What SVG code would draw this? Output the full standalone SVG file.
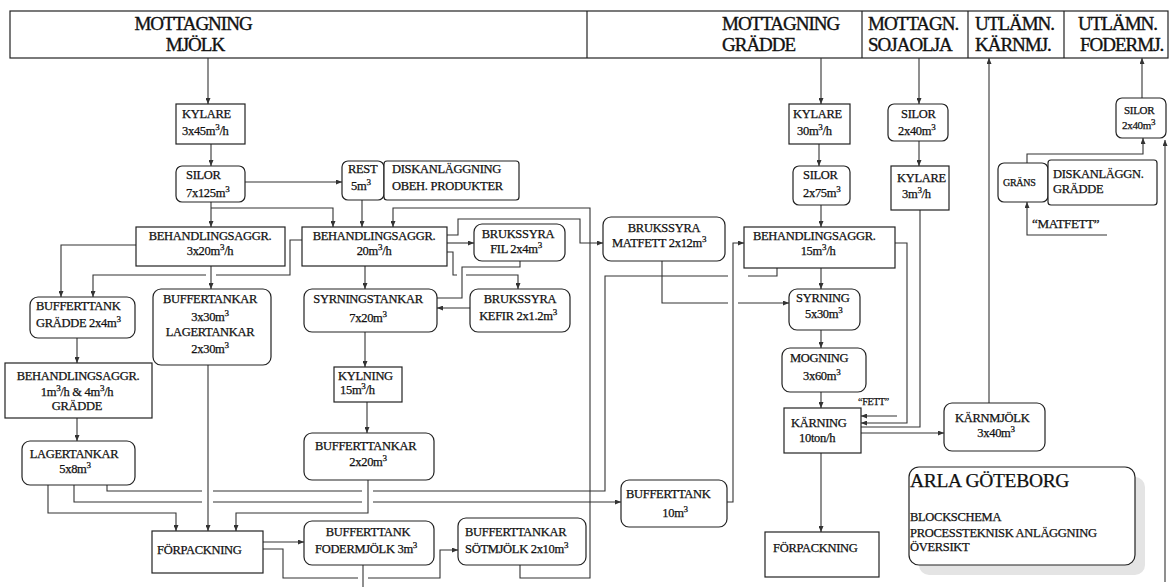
<svg xmlns="http://www.w3.org/2000/svg" width="1170" height="587" viewBox="0 0 1170 587">
  <style>
    .box { fill: #fff; stroke: #222; stroke-width: 1.2; }
    .ln { fill: none; stroke: #333; stroke-width: 1.1; }
    .arr { marker-end: url(#ah); }
    text { font-family: "Liberation Serif", "Times New Roman", serif; font-size: 12.5px; fill: #111; stroke: #111; stroke-width: 0.25px; letter-spacing: -0.3px; }
    .hd { font-size: 19px; letter-spacing: -1px; stroke-width: 0.35px; }
    .m { text-anchor: middle; }
    .sm { font-size: 11px; }
    .s { font-size: 9px; }
  </style>
  <defs>
    <marker id="ah" viewBox="0 0 6 5" refX="6" refY="2.5" markerWidth="6" markerHeight="5" markerUnits="userSpaceOnUse" orient="auto">
      <path d="M0,0 L6,2.5 L0,5 z" fill="#333"/>
    </marker>
  </defs>

  <rect width="1170" height="587" fill="#fff"/>

  <!-- header strip: receiving and delivery points -->
  <g id="header">
    <rect class="box" x="10" y="11" width="1158" height="47"/>
    <line class="box" x1="587" y1="11" x2="587" y2="58"/>
    <line class="box" x1="862" y1="11" x2="862" y2="58"/>
    <line class="box" x1="968" y1="11" x2="968" y2="58"/>
    <line class="box" x1="1064" y1="11" x2="1064" y2="58"/>
    <text class="hd m" x="193" y="30">MOTTAGNING</text>
    <text class="hd m" x="195" y="51">MJÖLK</text>
    <text class="hd" x="722" y="30">MOTTAGNING</text>
    <text class="hd" x="722" y="51">GRÄDDE</text>
    <text class="hd" x="868" y="30">MOTTAGN.</text>
    <text class="hd" x="868" y="51">SOJAOLJA</text>
    <text class="hd" x="975" y="30">UTLÄMN.</text>
    <text class="hd" x="975" y="51">KÄRNMJ.</text>
    <text class="hd" x="1078" y="30">UTLÄMN.</text>
    <text class="hd" x="1080" y="51">FODERMJ.</text>
  </g>

  <!-- connectors -->
  <g id="connectors">
    <path class="ln arr" d="M208,58 V104"/>
    <path class="ln arr" d="M211,144 V166"/>
    <path class="ln arr" d="M245,182 H342"/>
    <path class="ln arr" d="M211,202 V227"/>
    <path class="ln arr" d="M211,208 H333 V227"/>
    <path class="ln arr" d="M362,200 V227"/>
    <path class="ln arr" d="M520,565 V578 H590 V208 H393 V227"/>
    <path class="ln arr" d="M136,245 H61 V297"/>
    <path class="ln arr" d="M302,240 H290 V275 H216 M206,275 H93 V297"/>
    <path class="ln arr" d="M211,266 V289"/>
    <path class="ln arr" d="M447,243 H474"/>
    <path class="ln arr" d="M447,235 H458 V219 H580 V243 H603"/>
    <path class="ln arr" d="M447,252 H453 V275 H457 M466,275 H518 V289"/>
    <path class="ln" d="M520,261 V267 H462 V298 H437"/>
    <path class="ln arr" d="M470,308 H437"/>
    <path class="ln arr" d="M365,266 V289"/>
    <path class="ln arr" d="M365,332 V367"/>
    <path class="ln arr" d="M367,402 V433"/>
    <path class="ln arr" d="M368,480 V513 H236 V531"/>
    <path class="ln arr" d="M208,365 V531"/>
    <path class="ln arr" d="M77,338 V363"/>
    <path class="ln arr" d="M77,418 V441"/>
    <path class="ln arr" d="M48,485 V513 H176 V531"/>
    <path class="ln arr" d="M74,485 V502 H202 M213,502 H362 M373,502 H621"/>
    <path class="ln" d="M107,485 V491 H202 M213,491 H362 M373,491 H605 V276 H728 M748,276 H777 V268"/>
    <path class="ln arr" d="M263,542 H304"/>
    <path class="ln arr" d="M263,549 H283 V578 H358 M368,578 H440 V550 H458"/>
    <path class="ln" d="M363,565 V587"/>
    <path class="ln arr" d="M662,261 V303 H728 M738,303 H789"/>
    <path class="ln arr" d="M727,502 H733 V243 H744"/>
    <path class="ln arr" d="M821,58 V104"/>
    <path class="ln arr" d="M819,144 V166"/>
    <path class="ln arr" d="M821,205 V227"/>
    <path class="ln arr" d="M821,268 V289"/>
    <path class="ln arr" d="M821,330 V348"/>
    <path class="ln arr" d="M821,392 V408"/>
    <path class="ln arr" d="M821,453 V532"/>
    <path class="ln arr" d="M897,416 H861"/>
    <path class="ln arr" d="M895,243 H907 V423 H861"/>
    <path class="ln" d="M920,210 V427 H861"/>
    <path class="ln arr" d="M1165,582 V140"/>
    <path class="ln arr" d="M861,433 H944"/>
    <path class="ln arr" d="M989,403 V58"/>
    <path class="ln arr" d="M919,58 V104"/>
    <path class="ln arr" d="M919,141 V166"/>
    <path class="ln arr" d="M1142,98 V58"/>
    <path class="ln arr" d="M1027,163 V154 H1143 V138"/>
    <path class="ln arr" d="M1107,235 H1027 V202"/>
  </g>

  <!-- milk line -->
  <g id="kylare-mjolk">
    <rect class="box" x="176" y="104" width="69" height="40"/>
    <text x="182" y="118">KYLARE</text>
    <text x="182" y="135">3x45m<tspan class="s" dy="-5">3</tspan><tspan dy="5">/h</tspan></text>
  </g>
  <g id="silor-mjolk">
    <rect class="box" x="176" y="166" width="69" height="36" rx="6"/>
    <text x="186" y="179">SILOR</text>
    <text x="186" y="197">7x125m<tspan class="s" dy="-5">3</tspan></text>
  </g>
  <g id="rest">
    <rect class="box" x="342" y="161" width="42" height="39" rx="6"/>
    <text x="348" y="173">REST</text>
    <text x="351" y="190">5m<tspan class="s" dy="-5">3</tspan></text>
  </g>
  <g id="disk-obeh">
    <rect class="box" x="384" y="161" width="135" height="39" rx="3"/>
    <text x="392" y="173">DISKANLÄGGNING</text>
    <text x="392" y="190">OBEH. PRODUKTER</text>
  </g>
  <g id="behandl-3x20">
    <rect class="box" x="136" y="227" width="149" height="39"/>
    <text class="m" x="210" y="240">BEHANDLINGSAGGR.</text>
    <text class="m" x="210" y="255">3x20m<tspan class="s" dy="-5">3</tspan><tspan dy="5">/h</tspan></text>
  </g>
  <g id="behandl-20">
    <rect class="box" x="302" y="227" width="145" height="39"/>
    <text class="m" x="374" y="240">BEHANDLINGSAGGR.</text>
    <text class="m" x="374" y="255">20m<tspan class="s" dy="-5">3</tspan><tspan dy="5">/h</tspan></text>
  </g>
  <g id="bruks-fil">
    <rect class="box" x="474" y="224" width="91" height="37" rx="8"/>
    <text class="m" x="518" y="238">BRUKSSYRA</text>
    <text class="m" x="516" y="253">FIL 2x4m<tspan class="s" dy="-5">3</tspan></text>
  </g>
  <g id="bruks-kefir">
    <rect class="box" x="470" y="289" width="100" height="43" rx="8"/>
    <text class="m" x="520" y="303">BRUKSSYRA</text>
    <text class="m" x="518" y="320">KEFIR 2x1.2m<tspan class="s" dy="-5">3</tspan></text>
  </g>
  <g id="syrningstankar">
    <rect class="box" x="304" y="289" width="133" height="43" rx="8"/>
    <text class="m" x="368" y="303">SYRNINGSTANKAR</text>
    <text class="m" x="368" y="322">7x20m<tspan class="s" dy="-5">3</tspan></text>
  </g>
  <g id="kylning">
    <rect class="box" x="334" y="367" width="68" height="35"/>
    <text x="338" y="380">KYLNING</text>
    <text x="340" y="394">15m<tspan class="s" dy="-5">3</tspan><tspan dy="5">/h</tspan></text>
  </g>
  <g id="buffert-2x20">
    <rect class="box" x="304" y="433" width="130" height="47" rx="8"/>
    <text x="315" y="450">BUFFERTTANKAR</text>
    <text class="m" x="368" y="466">2x20m<tspan class="s" dy="-5">3</tspan></text>
  </g>
  <g id="buffert-gradde">
    <rect class="box" x="30" y="297" width="105" height="41" rx="8"/>
    <text x="36" y="310">BUFFERTTANK</text>
    <text x="36" y="327">GRÄDDE 2x4m<tspan class="s" dy="-5">3</tspan></text>
  </g>
  <g id="buffert-lager">
    <rect class="box" x="153" y="289" width="118" height="76" rx="8"/>
    <text class="m" x="210" y="303">BUFFERTANKAR</text>
    <text class="m" x="210" y="321">3x30m<tspan class="s" dy="-5">3</tspan></text>
    <text class="m" x="210" y="336">LAGERTANKAR</text>
    <text class="m" x="210" y="353">2x30m<tspan class="s" dy="-5">3</tspan></text>
  </g>
  <g id="behandl-gradde">
    <rect class="box" x="5" y="363" width="147" height="55"/>
    <text class="m" x="78" y="380">BEHANDLINGSAGGR.</text>
    <text class="m" x="77" y="396">1m<tspan class="s" dy="-5">3</tspan><tspan dy="5">/h &amp; 4m</tspan><tspan class="s" dy="-5">3</tspan><tspan dy="5">/h</tspan></text>
    <text class="m" x="77" y="410">GRÄDDE</text>
  </g>
  <g id="lagertankar">
    <rect class="box" x="22" y="441" width="113" height="44" rx="8"/>
    <text class="m" x="74" y="458">LAGERTANKAR</text>
    <text class="m" x="75" y="473">5x8m<tspan class="s" dy="-5">3</tspan></text>
  </g>
  <g id="forpackning-1">
    <rect class="box" x="152" y="531" width="111" height="42"/>
    <text x="157" y="554">FÖRPACKNING</text>
  </g>
  <g id="buffert-foder">
    <rect class="box" x="304" y="521" width="130" height="44" rx="8"/>
    <text class="m" x="368" y="536">BUFFERTTANK</text>
    <text x="315" y="553">FODERMJÖLK 3m<tspan class="s" dy="-5">3</tspan></text>
  </g>
  <g id="buffert-sotmjolk">
    <rect class="box" x="458" y="518" width="128" height="47" rx="8"/>
    <text x="465" y="536">BUFFERTTANKAR</text>
    <text x="465" y="553">SÖTMJÖLK 2x10m<tspan class="s" dy="-5">3</tspan></text>
  </g>
  <g id="bruks-matfett">
    <rect class="box" x="603" y="217" width="122" height="44" rx="8"/>
    <text class="m" x="664" y="232">BRUKSSYRA</text>
    <text x="612" y="247">MATFETT 2x12m<tspan class="s" dy="-5">3</tspan></text>
  </g>
  <g id="buffert-10">
    <rect class="box" x="621" y="480" width="106" height="47" rx="8"/>
    <text x="626" y="498">BUFFERTTANK</text>
    <text class="m" x="675" y="517">10m<tspan class="s" dy="-5">3</tspan></text>
  </g>

  <!-- cream line -->
  <g id="kylare-gradde">
    <rect class="box" x="789" y="104" width="61" height="40"/>
    <text x="793" y="118">KYLARE</text>
    <text x="797" y="135">30m<tspan class="s" dy="-5">3</tspan><tspan dy="5">/h</tspan></text>
  </g>
  <g id="silor-gradde">
    <rect class="box" x="793" y="166" width="57" height="39" rx="6"/>
    <text x="803" y="179">SILOR</text>
    <text x="803" y="197">2x75m<tspan class="s" dy="-5">3</tspan></text>
  </g>
  <g id="behandl-15">
    <rect class="box" x="744" y="227" width="151" height="41"/>
    <text x="753" y="240">BEHANDLINGSAGGR.</text>
    <text class="m" x="818" y="255">15m<tspan class="s" dy="-5">3</tspan><tspan dy="5">/h</tspan></text>
  </g>
  <g id="syrning">
    <rect class="box" x="789" y="289" width="71" height="41" rx="8"/>
    <text x="796" y="302">SYRNING</text>
    <text x="805" y="318">5x30m<tspan class="s" dy="-5">3</tspan></text>
  </g>
  <g id="mogning">
    <rect class="box" x="782" y="348" width="84" height="44" rx="8"/>
    <text x="790" y="362">MOGNING</text>
    <text x="803" y="380">3x60m<tspan class="s" dy="-5">3</tspan></text>
  </g>
  <g id="karning">
    <rect class="box" x="784" y="408" width="77" height="45"/>
    <text x="791" y="427">KÄRNING</text>
    <text x="799" y="442">10ton/h</text>
  </g>
  <g id="forpackning-2">
    <rect class="box" x="765" y="532" width="114" height="45"/>
    <text x="773" y="552">FÖRPACKNING</text>
  </g>
  <text x="858" y="405" style="font-size:10px">“FETT”</text>

  <!-- soy oil line -->
  <g id="silor-soja">
    <rect class="box" x="888" y="104" width="60" height="37" rx="6"/>
    <text x="901" y="118">SILOR</text>
    <text x="898" y="135">2x40m<tspan class="s" dy="-5">3</tspan></text>
  </g>
  <g id="kylare-soja">
    <rect class="box" x="891" y="166" width="58" height="44"/>
    <text x="897" y="182">KYLARE</text>
    <text x="902" y="198">3m<tspan class="s" dy="-5">3</tspan><tspan dy="5">/h</tspan></text>
  </g>
  <g id="karnmjolk">
    <rect class="box" x="944" y="403" width="101" height="48" rx="8"/>
    <text x="955" y="422">KÄRNMJÖLK</text>
    <text class="m" x="996" y="437">3x40m<tspan class="s" dy="-5">3</tspan></text>
  </g>

  <!-- feed milk delivery -->
  <g id="silor-foder">
    <rect class="box" x="1116" y="98" width="50" height="40" rx="6"/>
    <text class="sm" x="1124" y="114">SILOR</text>
    <text class="sm" x="1122" y="129">2x40m<tspan class="s" dy="-4">3</tspan></text>
  </g>
  <g id="grans">
    <rect class="box" x="998" y="163" width="50" height="39" rx="6"/>
    <text x="1003" y="186" style="font-size:10px">GRÄNS</text>
  </g>
  <g id="disk-gradde">
    <rect class="box" x="1048" y="160" width="109" height="45" rx="3"/>
    <text x="1053" y="178">DISKANLÄGGN.</text>
    <text x="1053" y="193">GRÄDDE</text>
  </g>
  <text x="1032" y="228" style="font-size:13px">“MATFETT”</text>

  <!-- title block -->
  <g id="title">
    <rect x="919" y="477" width="226" height="98" rx="10" fill="#e4e4e4"/>
    <rect class="box" x="909" y="467" width="226" height="98" rx="10"/>
    <text x="910" y="487" style="font-size:19.5px">ARLA GÖTEBORG</text>
    <text x="910" y="521">BLOCKSCHEMA</text>
    <text x="910" y="537">PROCESSTEKNISK ANLÄGGNING</text>
    <text x="910" y="551">ÖVERSIKT</text>
  </g>
</svg>
